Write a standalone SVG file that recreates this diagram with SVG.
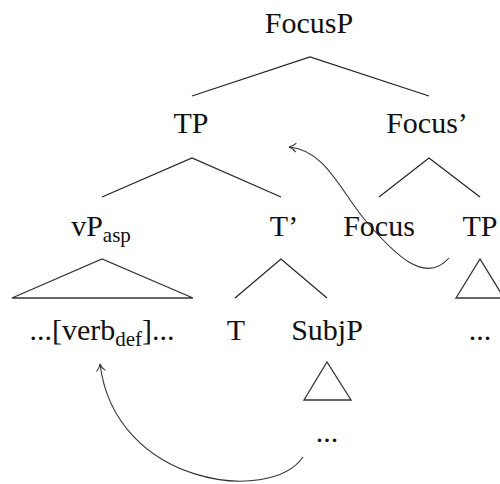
<svg xmlns="http://www.w3.org/2000/svg" width="500" height="484" viewBox="0 0 500 484">
<style>
text{font-family:"Liberation Serif","Times New Roman",serif;font-size:30px;fill:#111;text-anchor:middle}
.sub{font-size:21px}
.e{fill:none;stroke:#222;stroke-width:1.2}
.t{fill:none;stroke:#333;stroke-width:1.3;stroke-linejoin:miter}
.mv{fill:none;stroke:#333;stroke-width:1.1}
</style>
<defs>
<marker id="ah" markerWidth="12" markerHeight="12" refX="10" refY="6" orient="auto" markerUnits="userSpaceOnUse">
<path d="M3,1.5 Q6,5 10,6 Q6,7 3,10.5" fill="none" stroke="#333" stroke-width="1.1"/>
</marker>
</defs>
<rect width="500" height="484" fill="#fff"/>
<g id="connectors">
<path class="e" d="M192,96 L310,57 L429,96"/>
<path class="e" d="M102,197 L192,158 L281,197"/>
<path class="e" d="M379,197 L429,158 L480,197"/>
<path class="e" d="M235,298 L281,259 L327,298"/>
<path class="t" d="M12,298 L102,259 L193,298 Z"/>
<path class="t" d="M456,298 L480,259 L504,298 Z"/>
<path class="t" d="M304,400 L327,362 L351,400 Z"/>
<path class="mv" d="M449,258 C425,285 395,255 365,220 C340,190 325,150 289,147" marker-end="url(#ah)"/>
<path class="mv" d="M303,457 C270,505 115,485 100,364" marker-end="url(#ah)"/>
</g>
<g id="n-focusp"><text x="309" y="33">FocusP</text></g>
<g id="n-tp"><text x="191" y="133">TP</text></g>
<g id="n-focusbar"><text x="427" y="133">Focus’</text></g>
<g id="n-vpasp"><text x="101" y="236">vP<tspan class="sub" dy="6">asp</tspan></text></g>
<g id="n-tbar"><text x="284" y="236">T’</text></g>
<g id="n-focus"><text x="379" y="236">Focus</text></g>
<g id="n-tp2"><text x="480" y="236">TP</text></g>
<g id="n-verb"><text x="102" y="340">...[verb<tspan class="sub" dy="6">def</tspan><tspan dy="-6">]...</tspan></text></g>
<g id="n-t"><text x="236" y="340">T</text></g>
<g id="n-subjp"><text x="327" y="340">SubjP</text></g>
<g id="n-dots1"><text x="480" y="340">...</text></g>
<g id="n-dots2"><text x="327" y="442">...</text></g>
</svg>
